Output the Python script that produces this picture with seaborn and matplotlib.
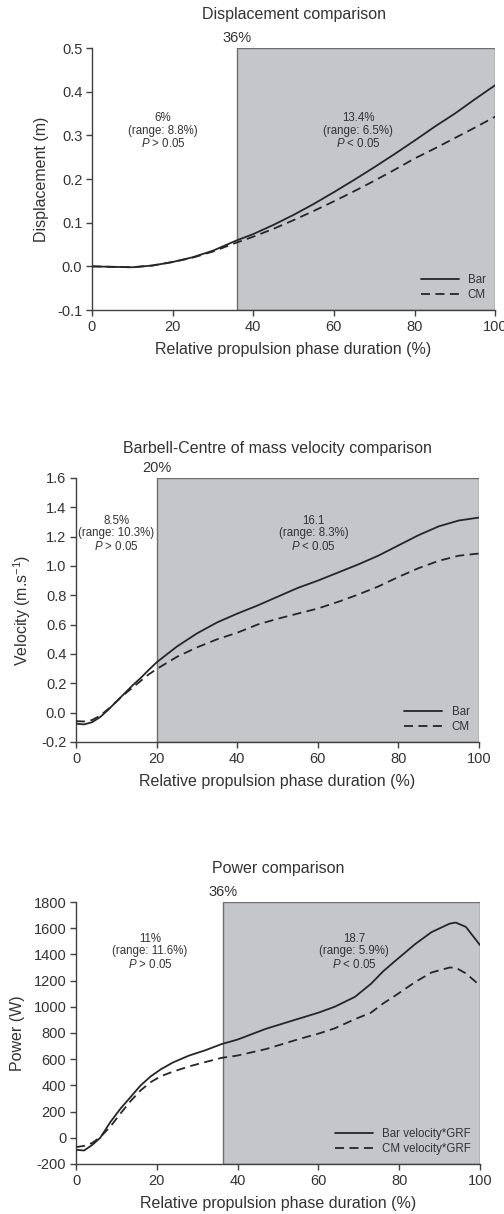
import numpy as np
import pandas as pd
import matplotlib
matplotlib.use("Agg")
import matplotlib.pyplot as plt
import seaborn as sns

# ---------------- data ----------------
disp_x = [0, 5, 10, 15, 20, 25, 30, 36, 40, 45, 50, 55, 60, 65, 70, 75, 80, 85, 90, 95, 100]
disp_bar = [0.0, -0.001, -0.002, 0.002, 0.010, 0.021, 0.036, 0.060, 0.074, 0.095, 0.118, 0.143,
            0.170, 0.198, 0.227, 0.257, 0.288, 0.320, 0.350, 0.383, 0.415]
disp_cm = [0.0, -0.001, -0.002, 0.002, 0.010, 0.020, 0.034, 0.055, 0.068, 0.086, 0.106, 0.127,
           0.149, 0.172, 0.196, 0.221, 0.247, 0.270, 0.294, 0.318, 0.343]

vel_x = [0, 2, 4, 6, 8, 10, 12, 14, 16, 18, 20, 25, 30, 35, 40, 45, 50, 55, 60, 65, 70, 75, 80,
         85, 90, 95, 100]
vel_bar = [-0.075, -0.080, -0.065, -0.030, 0.020, 0.075, 0.130, 0.185, 0.235, 0.290, 0.343, 0.450,
           0.540, 0.615, 0.675, 0.730, 0.790, 0.850, 0.900, 0.955, 1.010, 1.070, 1.140, 1.210,
           1.270, 1.310, 1.330]
vel_cm = [-0.058, -0.060, -0.050, -0.020, 0.025, 0.075, 0.125, 0.170, 0.215, 0.260, 0.297, 0.380,
          0.445, 0.500, 0.545, 0.600, 0.640, 0.675, 0.710, 0.755, 0.805, 0.860, 0.925, 0.985,
          1.035, 1.070, 1.085]

pow_x = [0, 2, 4, 6, 8.5, 11, 13.5, 16, 18.5, 21, 24, 28, 32, 36, 40, 47, 55, 60, 64, 69, 73,
         76, 79, 84, 88, 92.5, 94, 96.5, 100]
pow_bar = [-92, -97, -55, 0, 120, 222, 311, 400, 469, 523, 575, 628, 668, 715, 750, 832, 908, 955,
           1000, 1075, 1175, 1270, 1350, 1480, 1570, 1635, 1643, 1610, 1471]
pow_cm = [-71, -62, -40, 5, 85, 185, 280, 362, 425, 470, 505, 545, 578, 610, 628, 677, 752, 795,
          835, 905, 955, 1025, 1085, 1190, 1262, 1300, 1298, 1255, 1162]

panels = [
    dict(title="Displacement comparison", ylabel="Displacement (m)",
         x=disp_x, a=disp_bar, b=disp_cm, names=["Bar", "CM"],
         ylim=(-0.1, 0.5), yticks=[-0.1, 0.0, 0.1, 0.2, 0.3, 0.4, 0.5], yfmt="{:.1f}",
         split=36, split_label="36%",
         left_txt="6%\n(range: 8.8%)\n$\\mathit{P}$ > 0.05", left_pos=(17.6, 0.31),
         right_txt="13.4%\n(range: 6.5%)\n$\\mathit{P}$ < 0.05", right_pos=(66, 0.31)),
    dict(title="Barbell-Centre of mass velocity comparison", ylabel="Velocity (m.s$^{-1}$)",
         x=vel_x, a=vel_bar, b=vel_cm, names=["Bar", "CM"],
         ylim=(-0.2, 1.6), yticks=[-0.2, 0.0, 0.2, 0.4, 0.6, 0.8, 1.0, 1.2, 1.4, 1.6], yfmt="{:.1f}",
         split=20, split_label="20%",
         left_txt="8.5%\n(range: 10.3%)\n$\\mathit{P}$ > 0.05", left_pos=(10, 1.22),
         right_txt="16.1\n(range: 8.3%)\n$\\mathit{P}$ < 0.05", right_pos=(59, 1.22)),
    dict(title="Power comparison", ylabel="Power (W)",
         x=pow_x, a=pow_bar, b=pow_cm, names=["Bar velocity*GRF", "CM velocity*GRF"],
         ylim=(-200, 1800), yticks=list(range(-200, 1801, 200)), yfmt="{:.0f}",
         split=36.5, split_label="36%",
         left_txt="11%\n(range: 11.6%)\n$\\mathit{P}$ > 0.05", left_pos=(18.3, 1420),
         right_txt="18.7\n(range: 5.9%)\n$\\mathit{P}$ < 0.05", right_pos=(68.8, 1420)),
]

# ---------------- style ----------------
sns.set_style("ticks")
plt.rcParams["font.family"] = ["Liberation Sans", "DejaVu Sans"]
plt.rcParams["mathtext.fontset"] = "custom"
plt.rcParams["mathtext.rm"] = "Liberation Sans"
plt.rcParams["mathtext.it"] = "Liberation Sans:italic"
plt.rcParams["mathtext.default"] = "regular"

TXT = "#333333"
AX = "#404040"
SHADE = "#c5c6ca"

fig = plt.figure(figsize=(5.04, 12.14), dpi=100)
rects = [
    [0.1825, 0.7446, 0.800, 0.2158],
    [0.1508, 0.3888, 0.7996, 0.2175],
    [0.1508, 0.0412, 0.8016, 0.2158],
]
title_pads = [21, 18, 21]

for p, r, tp in zip(panels, rects, title_pads):
    ax = fig.add_axes(r)
    df = pd.DataFrame({
        "x": list(p["x"]) * 2,
        "y": list(p["a"]) + list(p["b"]),
        "series": [p["names"][0]] * len(p["x"]) + [p["names"][1]] * len(p["x"]),
    })
    ax.axvspan(p["split"], 100, facecolor=SHADE, edgecolor="#6e6e6e", linewidth=1.0, zorder=0)
    sns.lineplot(data=df, x="x", y="y", style="series", dashes={p["names"][0]: "", p["names"][1]: (5, 3)},
                 color="#262626", linewidth=1.3, ax=ax, legend=True, zorder=3)
    ax.set_xlim(0, 100)
    ax.set_ylim(*p["ylim"])
    ax.set_xticks([0, 20, 40, 60, 80, 100])
    ax.set_yticks(p["yticks"])
    ax.set_yticklabels([p["yfmt"].format(v) for v in p["yticks"]])
    for s in ["top", "right"]:
        ax.spines[s].set_visible(False)
    for s in ["left", "bottom"]:
        ax.spines[s].set_color(AX)
        ax.spines[s].set_linewidth(1.0)
    ax.tick_params(axis="both", direction="out", length=4, width=1.0, color=AX,
                   labelsize=10.5, labelcolor=TXT, pad=3)
    ax.set_xlabel("Relative propulsion phase duration (%)", fontsize=11.5, color=TXT, labelpad=6)
    ax.set_ylabel(p["ylabel"], fontsize=11.5, color=TXT, labelpad=6)
    ax.set_title(p["title"], fontsize=11.5, color=TXT, pad=tp)
    ax.text(p["split"], 1.012, p["split_label"], transform=ax.get_xaxis_transform(),
            ha="center", va="bottom", fontsize=10.5, color=TXT)
    ax.text(*p["left_pos"], p["left_txt"], ha="center", va="center", fontsize=8.3,
            color=TXT, linespacing=1.05)
    ax.text(*p["right_pos"], p["right_txt"], ha="center", va="center", fontsize=8.3,
            color=TXT, linespacing=1.05)
    leg = ax.legend(loc="lower right", frameon=False, fontsize=8.3, handlelength=3.3,
                    handletextpad=0.8, labelspacing=0.25, borderaxespad=0.4, title=None)
    for t in leg.get_texts():
        t.set_color(TXT)
    for h in leg.get_lines():
        h.set_color("#262626")
        h.set_linewidth(1.3)

fig.savefig("out.png", dpi=100)
